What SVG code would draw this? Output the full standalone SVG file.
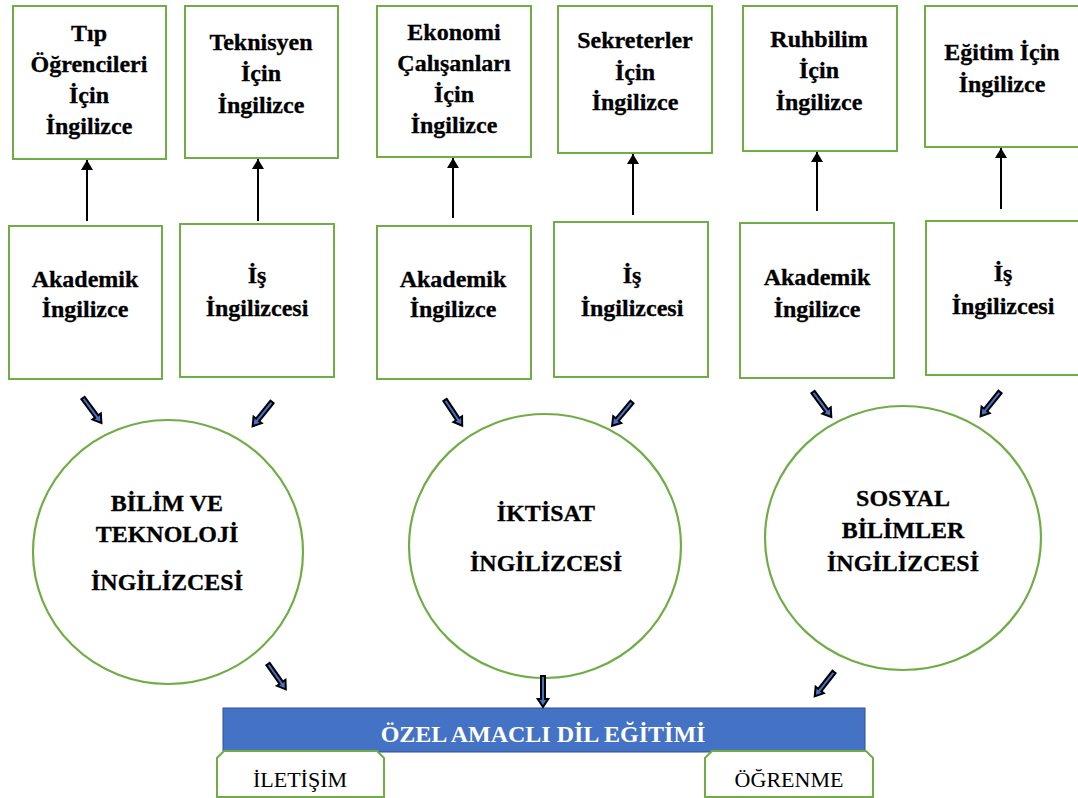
<svg xmlns="http://www.w3.org/2000/svg" xmlns:xlink="http://www.w3.org/1999/xlink" width="1078" height="798" viewBox="0 0 1078 798">
  <style>
    .box { fill: #ffffff; stroke: #70AD47; stroke-width: 2; }
    .circ { fill: #ffffff; stroke: #70AD47; stroke-width: 2.2; }
    .lbl { font-family: "Liberation Serif", "Times New Roman", serif; font-weight: bold; font-size: 24px; fill: #000000; stroke: #000000; stroke-width: 0.3; text-anchor: middle; }
    .tab { fill: #ffffff; stroke: #70AD47; stroke-width: 2; }
    .tabtxt { font-family: "Liberation Serif", "Times New Roman", serif; font-size: 22px; fill: #000000; text-anchor: middle; }
    .bar { fill: #4472C4; stroke: #2F528F; stroke-width: 1; }
    .bartxt { font-family: "Liberation Serif", "Times New Roman", serif; font-weight: bold; font-size: 24px; fill: #ffffff; text-anchor: middle; }
    .up { stroke: #000000; stroke-width: 2; fill: none; marker-end: url(#tip); }
    .blk { fill: #4472C4; stroke: #000000; stroke-width: 2; stroke-linejoin: miter; }
  </style>
  <defs>
    <marker id="tip" viewBox="0 0 10 12" refX="10" refY="6" markerWidth="10" markerHeight="12" markerUnits="userSpaceOnUse" orient="auto">
      <path d="M0,0 L10,6 L0,12 Z" fill="#000000"/>
    </marker>
    <!-- block arrow pointing along +x, tip at x=32 -->
    <path id="ba" d="M0,-2 L23,-2 L23,-5.2 L31,0 L23,5.2 L23,2 L0,2 Z"/>
  </defs>

  <rect width="1078" height="798" fill="#ffffff"/>

  <!-- upper row: specific courses -->
  <g id="tip-ogrencileri">
    <rect class="box" x="13" y="6" width="153" height="153"/>
    <text class="lbl" x="89" y="41">Tıp</text>
    <text class="lbl" x="89" y="72">Öğrencileri</text>
    <text class="lbl" x="89" y="103">İçin</text>
    <text class="lbl" x="89" y="134">İngilizce</text>
  </g>
  <g id="teknisyen">
    <rect class="box" x="185" y="6" width="153" height="152"/>
    <text class="lbl" x="261" y="50">Teknisyen</text>
    <text class="lbl" x="261" y="81">İçin</text>
    <text class="lbl" x="261" y="113">İngilizce</text>
  </g>
  <g id="ekonomi">
    <rect class="box" x="377" y="6" width="154" height="151"/>
    <text class="lbl" x="454" y="40">Ekonomi</text>
    <text class="lbl" x="454" y="71">Çalışanları</text>
    <text class="lbl" x="454" y="102">İçin</text>
    <text class="lbl" x="454" y="133">İngilizce</text>
  </g>
  <g id="sekreterler">
    <rect class="box" x="558" y="6" width="154" height="147"/>
    <text class="lbl" x="635" y="48">Sekreterler</text>
    <text class="lbl" x="635" y="80">İçin</text>
    <text class="lbl" x="635" y="110">İngilizce</text>
  </g>
  <g id="ruhbilim">
    <rect class="box" x="743" y="6" width="154" height="145"/>
    <text class="lbl" x="819" y="47">Ruhbilim</text>
    <text class="lbl" x="819" y="78">İçin</text>
    <text class="lbl" x="819" y="110">İngilizce</text>
  </g>
  <g id="egitim">
    <rect class="box" x="925" y="6" width="160" height="141"/>
    <text class="lbl" x="1002" y="60">Eğitim İçin</text>
    <text class="lbl" x="1002" y="92">İngilizce</text>
  </g>

  <!-- middle row: general branches -->
  <g id="akademik-1">
    <rect class="box" x="9" y="226" width="153" height="153"/>
    <text class="lbl" x="85" y="287">Akademik</text>
    <text class="lbl" x="85" y="317">İngilizce</text>
  </g>
  <g id="is-1">
    <rect class="box" x="180" y="224" width="154" height="153"/>
    <text class="lbl" x="257" y="283">İş</text>
    <text class="lbl" x="257" y="316">İngilizcesi</text>
  </g>
  <g id="akademik-2">
    <rect class="box" x="377" y="226" width="154" height="153"/>
    <text class="lbl" x="453" y="287">Akademik</text>
    <text class="lbl" x="453" y="317">İngilizce</text>
  </g>
  <g id="is-2">
    <rect class="box" x="554" y="222" width="154" height="155"/>
    <text class="lbl" x="632" y="283">İş</text>
    <text class="lbl" x="632" y="316">İngilizcesi</text>
  </g>
  <g id="akademik-3">
    <rect class="box" x="740" y="223" width="154" height="155"/>
    <text class="lbl" x="817" y="285">Akademik</text>
    <text class="lbl" x="817" y="317">İngilizce</text>
  </g>
  <g id="is-3">
    <rect class="box" x="926" y="221" width="160" height="154"/>
    <text class="lbl" x="1003" y="281">İş</text>
    <text class="lbl" x="1003" y="314">İngilizcesi</text>
  </g>

  <!-- field circles -->
  <g id="bilim-teknoloji">
    <ellipse class="circ" cx="168" cy="552" rx="135" ry="132"/>
    <text class="lbl" x="167" y="511">BİLİM VE</text>
    <text class="lbl" x="167" y="542">TEKNOLOJİ</text>
    <text class="lbl" x="167" y="590">İNGİLİZCESİ</text>
  </g>
  <g id="iktisat">
    <ellipse class="circ" cx="545" cy="546" rx="136" ry="132"/>
    <text class="lbl" x="546" y="521">İKTİSAT</text>
    <text class="lbl" x="546" y="571">İNGİLİZCESİ</text>
  </g>
  <g id="sosyal-bilimler">
    <ellipse class="circ" cx="903" cy="538" rx="138" ry="132"/>
    <text class="lbl" x="903" y="506">SOSYAL</text>
    <text class="lbl" x="903" y="538">BİLİMLER</text>
    <text class="lbl" x="903" y="571">İNGİLİZCESİ</text>
  </g>

  <!-- base: special purpose language teaching -->
  <g id="ozel-amacli">
    <rect class="bar" x="223" y="708" width="642" height="44"/>
    <text class="bartxt" x="543" y="742">ÖZEL AMACLI DİL EĞİTİMİ</text>
  </g>
  <g id="iletisim">
    <path class="tab" d="M217,797 L217,758 L224,751 L377,751 L384,758 L384,797 Z"/>
    <text class="tabtxt" x="300" y="787">İLETİŞİM</text>
  </g>
  <g id="ogrenme">
    <path class="tab" d="M705,797 L705,758 L712,751 L866,751 L873,758 L873,797 Z"/>
    <text class="tabtxt" x="789" y="787">ÖĞRENME</text>
  </g>

  <!-- connectors -->
  <g id="connectors">
    <line class="up" x1="87" y1="221" x2="87" y2="160"/>
    <line class="up" x1="258" y1="221" x2="258" y2="159"/>
    <line class="up" x1="453" y1="218" x2="453" y2="158"/>
    <line class="up" x1="633" y1="215" x2="633" y2="154"/>
    <line class="up" x1="817" y1="211" x2="817" y2="152"/>
    <line class="up" x1="1001" y1="209" x2="1001" y2="148"/>

    <use class="blk" xlink:href="#ba" href="#ba" transform="translate(83,398) rotate(53.5)"/>
    <use class="blk" xlink:href="#ba" href="#ba" transform="translate(272,402) rotate(128.7)"/>
    <use class="blk" xlink:href="#ba" href="#ba" transform="translate(445,400) rotate(56.3)"/>
    <use class="blk" xlink:href="#ba" href="#ba" transform="translate(632,402) rotate(130)"/>
    <use class="blk" xlink:href="#ba" href="#ba" transform="translate(813,392) rotate(53.8)"/>
    <use class="blk" xlink:href="#ba" href="#ba" transform="translate(1000,392) rotate(128.7)"/>
    <use class="blk" xlink:href="#ba" href="#ba" transform="translate(268,664) rotate(54.9)"/>
    <use class="blk" xlink:href="#ba" href="#ba" transform="translate(543,676) rotate(90)"/>
    <use class="blk" xlink:href="#ba" href="#ba" transform="translate(834,672) rotate(128.4)"/>
  </g>
</svg>
